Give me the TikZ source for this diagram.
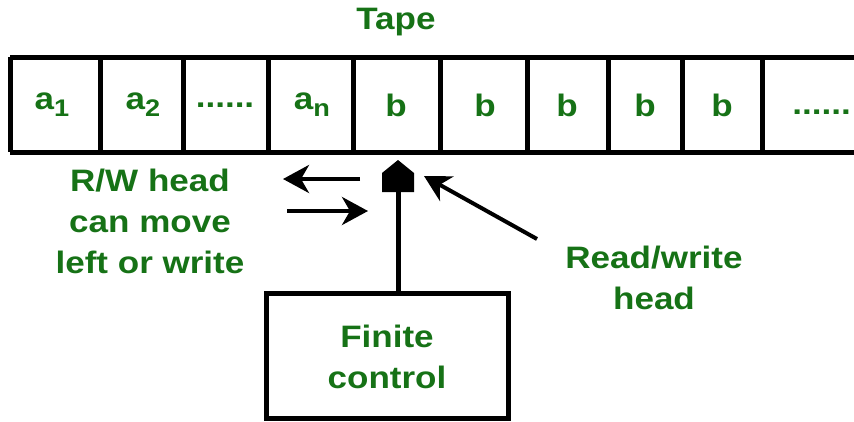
\documentclass[tikz,border=0pt]{standalone}
\usepackage{fontspec}
\setmainfont{Liberation Sans}
\newfontfamily\lblfont[FakeStretch=1.13]{Liberation Sans}
\usetikzlibrary{arrows.meta}
\definecolor{labelgreen}{RGB}{22,114,22}
\tikzset{
  lbl/.style={text=labelgreen, font=\lblfont\fontsize{31}{41}\selectfont\bfseries, inner sep=0pt, align=center},
  tapeline/.style={line width=5pt},
  mover/.style={line width=4pt, -{Stealth[length=26pt,width=28pt,inset=8pt]}},
}
\newcommand{\sbs}[1]{\raisebox{-7pt}{\fontsize{24}{24}\selectfont\bfseries #1}}
\begin{document}
\begin{tikzpicture}[x=1pt,y=-1pt]
  \useasboundingbox (0,0) rectangle (854,421);

  % tape edges
  \draw[tapeline] (10,57) -- (854,57);
  \draw[tapeline] (10,152) -- (854,152);
  \draw[tapeline] (10,57) -- (10,152);
  \foreach \x in {100,183,268,353,440,527,608,682,762}
    \draw[tapeline] (\x,57) -- (\x,152);

  % cell contents
  \node[lbl] (c1) at (52,105) {a\sbs{1}};
  \node[lbl] (c2) at (143,105) {a\sbs{2}};
  \node[lbl] (c3) at (225,105) {......};
  \node[lbl] (c4) at (312,105) {a\sbs{n}};
  \node[lbl] (c5) at (396,105) {b};
  \node[lbl] (c6) at (485,105) {b};
  \node[lbl] (c7) at (567,105) {b};
  \node[lbl] (c8) at (645,105) {b};
  \node[lbl] (c9) at (722,105) {b};
  \node[lbl, anchor=east] (c10) at (851,112) {......};

  \node[lbl] (tape) at (396,22) {Tape};

  % read/write head
  \fill (382,192) -- (382,173) -- (398,160) -- (414,173) -- (414,192) -- cycle;
  \coordinate (headbase) at (398,190);
  \coordinate (headside) at (424,176);

  % finite control
  \node[draw, line width=5pt, minimum width=242pt, minimum height=125pt,
        inner sep=0pt] (fc) at (387,355.5) {};
  \node[lbl] (fctext) at (387,357) {Finite\\control};
  \draw[line width=5pt] (headbase) -- (headbase |- fc.north);

  % head movement arrows
  \coordinate (l0) at (360,179);
  \coordinate (l1) at (283,179);
  \coordinate (r0) at (287,211);
  \coordinate (r1) at (368,211);
  \draw[mover] (l0) -- (l1);
  \draw[mover] (r0) -- (r1);

  \coordinate (d0) at (537,239);
  \draw[mover] (d0) -- (headside);

  % captions
  \node[lbl] (rw) at (150,221) {R/W head\\can move\\left or write};
  \node[lbl] (rwh) at (654,278) {Read/write\\head};
\end{tikzpicture}
\end{document}
